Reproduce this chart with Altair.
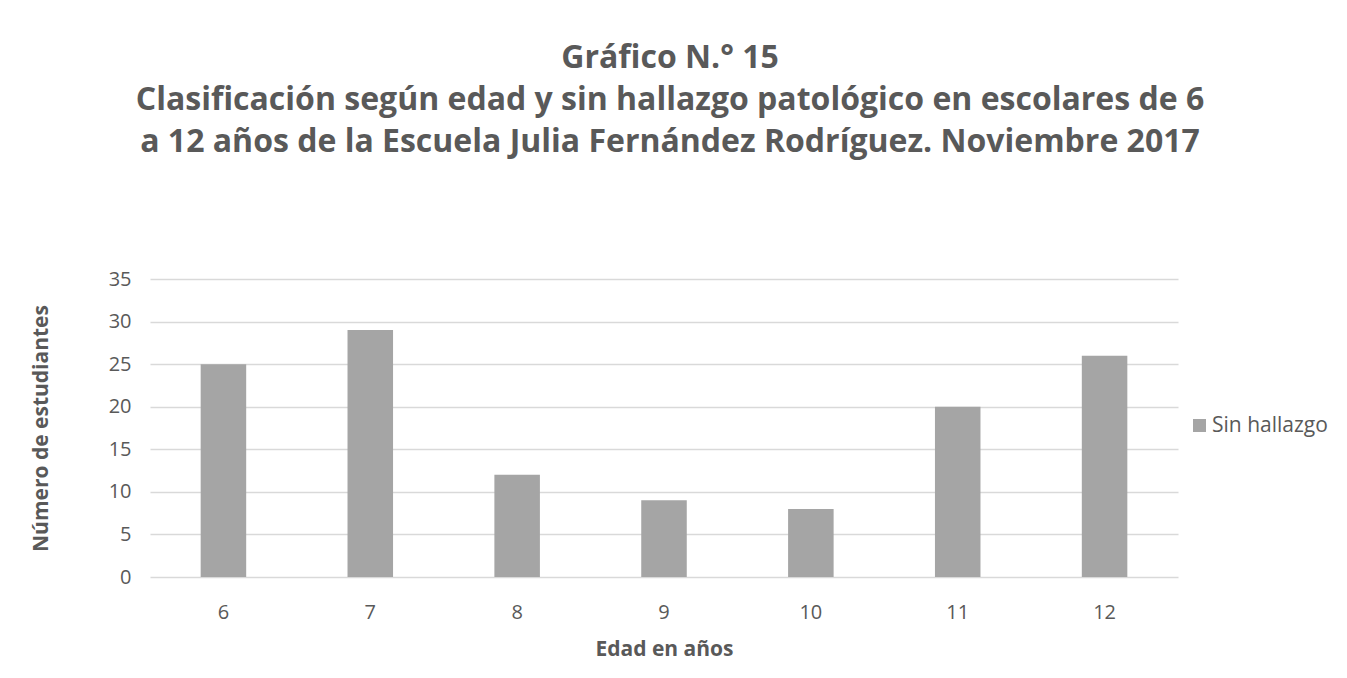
import altair as alt
import pandas as pd

edades = ["6", "7", "8", "9", "10", "11", "12"]
sin_hallazgo = [25, 29, 12, 9, 8, 20, 26]
serie = "Sin hallazgo"

df = pd.DataFrame({"edad": edades, "valor": sin_hallazgo, "serie": [serie] * len(edades)})

FONT = "Open Sans"
TXT = "#595959"

chart = alt.Chart(df).mark_bar().encode(
    x=alt.X("edad:N", sort=edades,
            scale=alt.Scale(paddingInner=0.69, paddingOuter=0.345),
            axis=alt.Axis(title="Edad en años", labelAngle=0, ticks=False, domain=False,
                          labelPadding=25, titlePadding=16, labelFontSize=20,
                          titleFontSize=21, titleFontWeight="bold")),
    y=alt.Y("valor:Q", scale=alt.Scale(domain=[0, 35], nice=False),
            axis=alt.Axis(title="Número de estudiantes", values=[0, 5, 10, 15, 20, 25, 30, 35],
                          ticks=False, domain=False, labelPadding=19, titlePadding=57,
                          labelFontSize=20, titleFontSize=21, titleFontWeight="bold",
                          gridColor="#D9D9D9", gridWidth=1.3)),
    color=alt.Color("serie:N", scale=alt.Scale(range=["#A5A5A5"]),
                    legend=alt.Legend(title=None, orient="none", legendX=1039, legendY=136,
                                      symbolType="square", symbolSize=169, labelFontSize=21,
                                      labelColor=TXT, symbolStrokeWidth=0, labelOffset=2)),
).properties(
    width=1028,
    height=298,
    padding={"left": 142, "top": 271, "right": 161, "bottom": 93},
    autosize=alt.AutoSizeParams(type="none"),
    title=alt.TitleParams(
        text=["Gráfico N.° 15",
              "Clasificación según edad y sin hallazgo patológico en escolares de 6",
              "a 12 años de la Escuela Julia Fernández Rodríguez. Noviembre 2017"],
        fontSize=32, font=FONT, fontWeight="bold", color=TXT, lineHeight=42,
        anchor="middle", offset=110, dx=6,
    ),
).configure(font=FONT).configure_axis(
    labelColor=TXT, titleColor=TXT, labelFont=FONT, titleFont=FONT
).configure_legend(labelFont=FONT).configure_view(stroke=None)

chart.save("out.html", embed_options={"renderer": "svg", "actions": False})
